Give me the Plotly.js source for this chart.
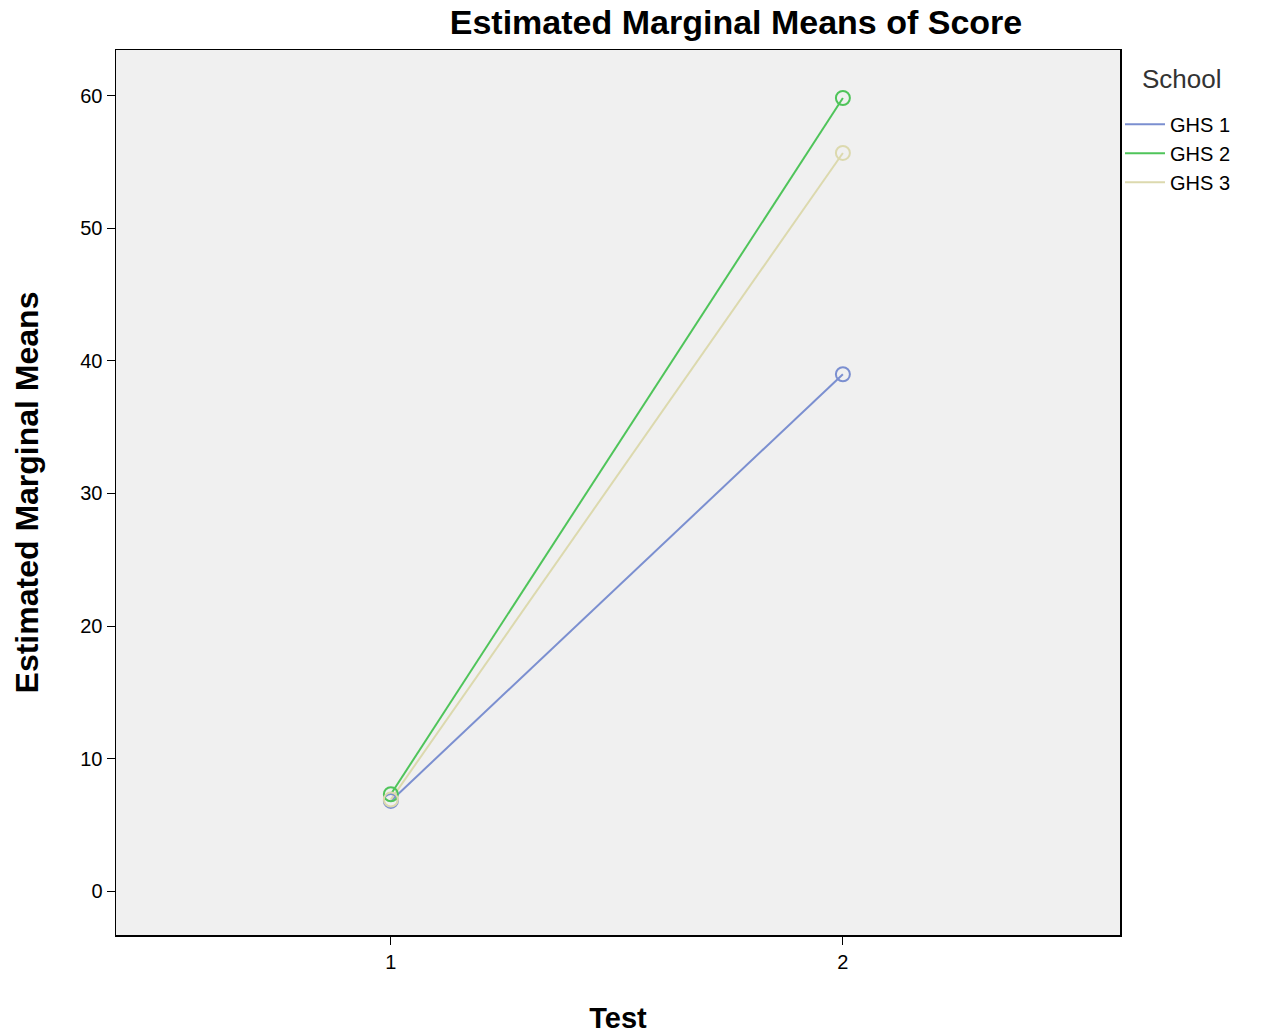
<!DOCTYPE html>
<html>
<head>
<meta charset="utf-8">
<script src="https://cdn.plot.ly/plotly-3.0.1.min.js"></script>
<style>html,body{margin:0;padding:0;background:#fff}</style>
</head>
<body>
<div id="chart" style="width:1269px;height:1034px"></div>
<script>
const tests = [1, 2]
const schools = ['GHS 1', 'GHS 2', 'GHS 3']
const ghs1 = [6.8, 39.0]
const ghs2 = [7.3, 59.85]
const ghs3 = [6.9, 55.7]
const colors = ['#7b8fd0', '#4fc45a', '#dcd9ae']

const series = [ghs1, ghs2, ghs3]
// lines carry the legend, markers drawn separately so the legend shows plain lines
const lineTraces = series.map((vals, i) => ({
  x: tests, y: vals, name: schools[i], type: 'scatter', mode: 'lines',
  line: {color: colors[i], width: 2}
}))
const markTraces = series.map((vals, i) => ({
  x: tests, y: vals, name: schools[i], type: 'scatter', mode: 'markers', showlegend: false,
  marker: {symbol: 'circle-open', size: 14, color: colors[i], line: {width: 2}}
}))

const layout = {
  width: 1269,
  height: 1034,
  paper_bgcolor: '#fff',
  plot_bgcolor: '#f0f0f0',
  margin: {l: 116, r: 149, t: 50, b: 99},
  font: {family: 'Liberation Sans, Arial, sans-serif', color: '#000', size: 20},
  title: {text: '<b>Estimated Marginal Means of Score</b>', x: 0.58, xanchor: 'center', y: 0.99, yanchor: 'top', font: {size: 34}},
  xaxis: {
    range: [0.392, 2.613], tickvals: tests, ticktext: ['1', '2'],
    showgrid: false, zeroline: false, showline: true, linecolor: '#000', linewidth: 1.5, mirror: true,
    ticks: 'outside', ticklen: 8, tickcolor: '#000',
    title: {text: '<b>Test</b>', font: {size: 29}, standoff: 40}
  },
  yaxis: {
    range: [-3.32, 63.47], tickvals: [0, 10, 20, 30, 40, 50, 60],
    showgrid: false, zeroline: false, showline: true, linecolor: '#000', linewidth: 1.5, mirror: true,
    ticks: 'outside', ticklen: 8, tickcolor: '#000',
    title: {text: '<b>Estimated Marginal Means</b>', font: {size: 32}, standoff: 32}
  },
  annotations: [{
    text: 'School', xref: 'paper', yref: 'paper', x: 1.02, y: 0.967, xanchor: 'left', yanchor: 'middle',
    showarrow: false, font: {size: 26, color: '#333'}
  }],
  legend: {
    x: 1.0, y: 0.938, xanchor: 'left', yanchor: 'top',
    font: {size: 20}, itemwidth: 40, tracegroupgap: 0, bgcolor: 'rgba(0,0,0,0)'
  },
  showlegend: true
}

Plotly.newPlot('chart', lineTraces.concat(markTraces), layout, {staticPlot: true})
</script>
</body>
</html>
